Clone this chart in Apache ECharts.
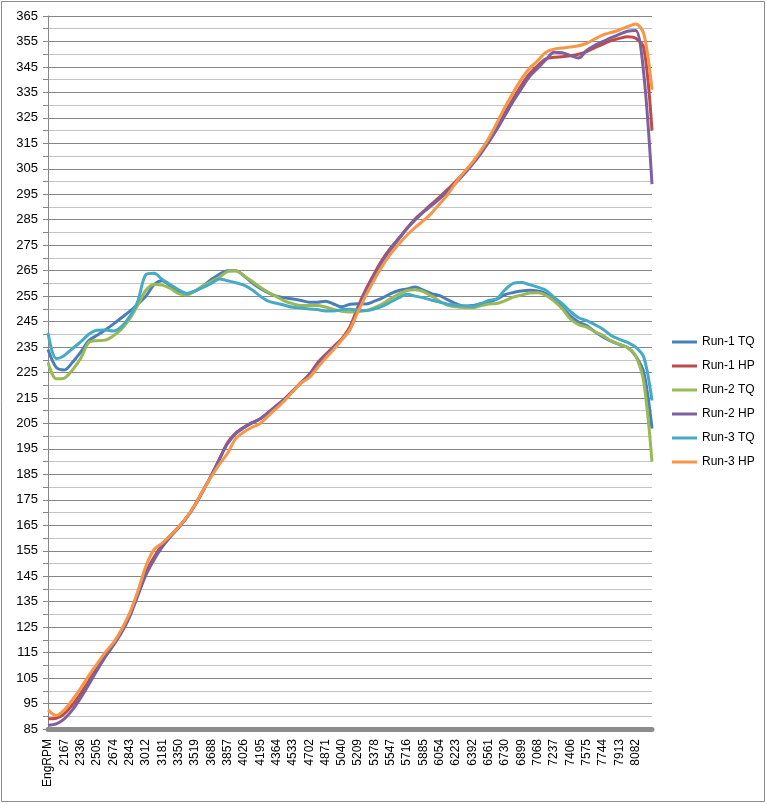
<!DOCTYPE html>
<html>
<head>
    <meta charset="utf-8">
    <title>Dyno runs</title>
    <script src="https://cdn.jsdelivr.net/npm/echarts@6/dist/echarts.min.js"></script>
    <style>
        html, body { margin: 0; padding: 0; background: #ffffff; }
        #chart { width: 767px; height: 804px; }
    </style>
</head>
<body>
<div id="chart"></div>
<script>
    // rpm categories (every second one gets a label)
    var rpm = ['EngRPM', '2083', '2167', '2252', '2336', '2421', '2505', '2590', '2674', '2759',
        '2843', '2928', '3012', '3097', '3181', '3266', '3350', '3435', '3519', '3604',
        '3688', '3773', '3857', '3942', '4026', '4111', '4195', '4280', '4364', '4449',
        '4533', '4618', '4702', '4787', '4871', '4956', '5040', '5125', '5209', '5294',
        '5378', '5463', '5547', '5632', '5716', '5801', '5885', '5970', '6054', '6139',
        '6223', '6308', '6392', '6477', '6561', '6646', '6730', '6815', '6899', '6984',
        '7068', '7153', '7237', '7322', '7406', '7491', '7575', '7660', '7744', '7829',
        '7913', '7998', '8082', '8167', '8251'];

    var run1TQ = [234, 227, 226, 229, 233, 237.5, 239.6, 241.7, 244, 246.5,
        249, 251.8, 255, 259.5, 261, 259, 256.8, 256, 257, 259,
        261.5, 263.6, 265, 265, 263, 260.2, 258, 256.3, 255, 254.3,
        253.9, 253.3, 252.6, 252.6, 253, 251.9, 250.8, 251.8, 252, 251.9,
        253, 254.3, 256, 257.2, 257.8, 258.6, 257.3, 256, 255.2, 253.5,
        252, 251, 251.3, 252, 252.7, 253.8, 255.6, 256.4, 257, 257.3,
        257, 256, 253.5, 250.5, 247.2, 244.8, 243.4, 241, 239, 237.3,
        236, 234.8, 231.5, 225, 203];
    var run1HP = [89, 89.2, 91, 94.5, 98.9, 103.8, 109.5, 114.5, 118.5, 123.5,
        129.8, 138, 146.5, 152.5, 157.5, 161, 164.3, 168.2, 173, 178.7,
        184.5, 191, 197.5, 201.2, 203.5, 205.3, 206.8, 209.3, 212, 214.6,
        217.8, 221, 224.2, 228.7, 232, 235.2, 238.3, 243, 251, 258,
        264, 269.5, 274, 277.8, 281.8, 285.4, 288.3, 291.2, 294, 297,
        300.2, 303.5, 307.2, 311.3, 316, 321, 327, 332.5, 337.8, 342.3,
        345.5, 348.2, 348.8, 349, 349.4, 350, 351, 352.6, 354, 355.3,
        356.2, 356.9, 356.3, 352.5, 320];
    var run2TQ = [229, 222.5, 222.8, 226, 230.5, 236.8, 237.5, 237.7, 239.4, 242,
        246, 251.5, 257.3, 259.6, 259.3, 258, 256, 255.5, 257, 259,
        260.7, 262.5, 264.6, 265, 263, 260.8, 258.5, 256.5, 254.8, 253,
        252, 251.3, 251.3, 251.3, 250.7, 249.8, 249, 248.8, 248.9, 249.3,
        250.5, 252, 254, 255.8, 257.2, 257.5, 256.8, 255, 253, 251.4,
        250.8, 250.5, 250.4, 251.2, 251.9, 252.1, 253.2, 254.6, 255.4, 256.2,
        256.3, 255.3, 253, 250, 246, 243.8, 242.8, 241, 239.5, 237.4,
        236, 234.8, 231.5, 221, 190];
    var run2HP = [86.5, 87, 89, 92.5, 97.2, 102.5, 108, 113.2, 117.8, 122.8,
        129, 137.3, 145.5, 151.5, 156.5, 160.5, 164, 168, 172.8, 178.5,
        184.5, 191, 197, 201, 203.3, 205.2, 206.8, 209.3, 212, 214.6,
        217.8, 221, 224, 228, 231.5, 234.8, 238, 242, 250, 257,
        263, 268.8, 273.4, 277.5, 281.5, 285, 288, 290.6, 293.3, 296.3,
        299.5, 303, 306.8, 310.8, 315.5, 320.5, 326, 331.5, 336.5, 341.2,
        344.5, 347.8, 350.8, 350.6, 349.5, 348.5, 351.5, 353.5, 355, 356.5,
        357.8, 359, 359.3, 342, 299];
    var run3TQ = [240.5, 230.5, 231.7, 234.4, 237, 240, 241.6, 241.7, 241.3, 243,
        247, 253, 263.5, 264, 261.5, 259.5, 257.5, 256, 257, 258.4,
        260, 261.7, 261, 260.3, 259.3, 257.5, 255, 253, 252.2, 251.4,
        250.6, 250.3, 249.9, 249.7, 249.2, 249.2, 249.7, 249.8, 249.5, 249.3,
        250, 251.1, 252.7, 254.4, 255.7, 255, 254.3, 253.4, 252.6, 251.8,
        251.4, 251.2, 251, 252, 253.3, 254, 257.5, 260, 260.3, 259.5,
        258.5, 257.3, 254.5, 252, 249, 246.5, 245.4, 243.8, 242, 239.5,
        238, 236.8, 235, 231, 214];
    var run3HP = [92.5, 90.3, 92.5, 96.5, 101, 106, 110.5, 115, 118.8, 124,
        130.5, 139, 149, 155.5, 158, 161, 164.3, 168.2, 173, 178.7,
        184, 189, 193.3, 199, 201.6, 203.5, 205, 208, 211, 214,
        217.5, 220.9, 223, 226.8, 230.6, 234, 237.8, 242, 249, 255.6,
        261.5, 267, 271.7, 275.5, 279, 282, 284.6, 287.6, 291.3, 295,
        299.7, 303.8, 307.5, 312, 317, 323, 329.3, 335, 340.2, 344.5,
        347.5, 350.8, 352, 352.4, 352.8, 353.3, 354.3, 356, 357.6, 358.5,
        359.5, 360.8, 361.9, 358, 336];

    var seriesNames = ['Run-1 TQ', 'Run-1 HP', 'Run-2 TQ', 'Run-2 HP', 'Run-3 TQ', 'Run-3 HP'];
    var seriesData = [run1TQ, run1HP, run2TQ, run2HP, run3TQ, run3HP];
    var seriesColors = ['#4a7ebb', '#be4b48', '#98b954', '#7d60a0', '#46aac5', '#f79646'];

    var chart = echarts.init(document.getElementById('chart'), null, {renderer: 'canvas'});

    var option = {
        animation: false,
        color: seriesColors,
        textStyle: {fontFamily: 'Liberation Sans'},
        graphic: [{
            type: 'rect',
            shape: {x: 1.5, y: 1.5, width: 763, height: 800},
            style: {fill: 'none', stroke: '#8a8a8a', lineWidth: 1},
            silent: true
        }],
        grid: {left: 48, right: 115, top: 16, bottom: 75},
        legend: {
            orient: 'vertical',
            left: 667,
            top: 330,
            padding: 5,
            icon: 'rect',
            itemWidth: 25,
            itemHeight: 3,
            itemGap: 10,
            data: seriesNames,
            textStyle: {fontSize: 12, lineHeight: 14, color: '#000'}
        },
        xAxis: {
            type: 'category',
            boundaryGap: false,
            data: rpm,
            axisLine: {lineStyle: {color: '#8c8c8c', width: 5}},
            axisTick: {show: false},
            splitLine: {show: false},
            axisLabel: {
                rotate: 90,
                margin: 10,
                fontSize: 12,
                color: '#000',
                interval: function (idx) {
                    return idx % 2 === 0 && idx < rpm.length - 1;
                }
            }
        },
        yAxis: {
            type: 'value',
            min: 85,
            max: 365,
            interval: 10,
            axisLine: {show: true, lineStyle: {color: '#868686'}},
            axisTick: {show: true, length: 5, lineStyle: {color: '#868686'}},
            minorTick: {show: true, splitNumber: 2, length: 5, lineStyle: {color: '#868686'}},
            axisLabel: {fontSize: 13, color: '#000', margin: 10},
            splitLine: {lineStyle: {color: '#868686'}},
            minorSplitLine: {show: true, lineStyle: {color: '#c4c4c4'}}
        },
        series: seriesNames.map(function (name, i) {
            return {
                name: name,
                type: 'line',
                data: seriesData[i],
                smooth: 0.3,
                symbol: 'none',
                lineStyle: {width: 3}
            };
        })
    };

    chart.setOption(option);
</script>
</body>
</html>
